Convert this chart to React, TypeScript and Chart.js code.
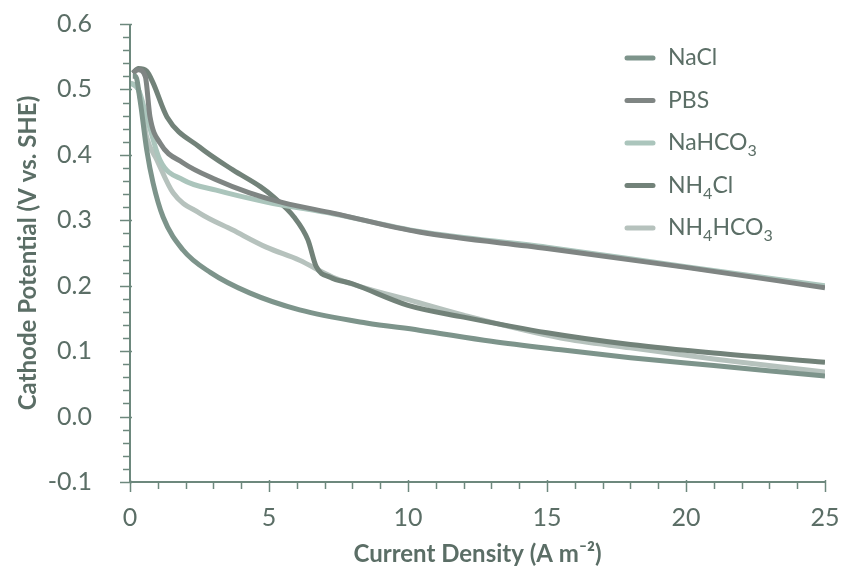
import React, { useEffect, useRef } from "react";
import { Chart, registerables } from "chart.js";

Chart.register(...registerables);

// Series data (x = current density A m^-2, y = cathode potential V vs SHE)
const naclX = [0.1, 0.2, 0.36, 0.6, 0.83, 1.19, 1.9, 2.9, 4.3, 6.1, 8.5, 10.4, 13, 15.5, 18, 21, 25];
const naclY = [0.52, 0.52, 0.484, 0.408, 0.357, 0.305, 0.255, 0.22, 0.189, 0.163, 0.143, 0.132, 0.115, 0.102, 0.09, 0.078, 0.062];

const pbsX = [0.1, 0.3, 0.55, 0.72, 1.08, 1.9, 3.1, 4.3, 5.5, 7.3, 10.4, 15, 20, 25];
const pbsY = [0.525, 0.53, 0.52, 0.458, 0.418, 0.388, 0.362, 0.342, 0.327, 0.311, 0.282, 0.257, 0.228, 0.197];

const nahco3X = [0, 0.3, 0.6, 1.08, 1.9, 3.1, 4.9, 7.3, 10.4, 15, 20, 25];
const nahco3Y = [0.51, 0.5, 0.458, 0.392, 0.362, 0.346, 0.328, 0.31, 0.283, 0.259, 0.229, 0.2];

const nh4clX = [0.1, 0.3, 0.6, 0.83, 1.33, 2.5, 3.7, 4.7, 5.15, 5.9, 6.4, 6.7, 7.2, 8, 10, 12, 15, 18, 21, 25];
const nh4clY = [0.525, 0.532, 0.528, 0.51, 0.458, 0.412, 0.377, 0.351, 0.336, 0.305, 0.27, 0.229, 0.213, 0.203, 0.17, 0.152, 0.128, 0.11, 0.097, 0.083];

const nh4hco3X = [0, 0.3, 0.6, 0.97, 1.55, 2.5, 3.7, 4.9, 6.1, 7.3, 10.4, 12, 15.5, 18, 21, 25];
const nh4hco3Y = [0.51, 0.5, 0.427, 0.392, 0.342, 0.311, 0.285, 0.259, 0.239, 0.213, 0.174, 0.155, 0.12, 0.105, 0.088, 0.068];

// Legend labels: [main, subscript, main, subscript...]
const legendParts: string[][] = [
  ["NaCl"],
  ["PBS"],
  ["NaHCO", "3"],
  ["NH", "4", "Cl"],
  ["NH", "4", "HCO", "3"],
];
const seriesColors = ["#7d948b", "#7f8583", "#abc5bc", "#728279", "#b6c2bd"];

const yTicks = { min: -0.1, max: 0.6, step: 0.1, minor: 0.02 };
const xTicks = { min: 0, max: 25, step: 5, minor: 1 };

const TEXT = "#5b6e66";
const AXIS = "#6d887d";
const FONT = "Lato, 'Open Sans', sans-serif";

function pts(xs: number[], ys: number[]) {
  return xs.map((x, i) => ({ x, y: ys[i] }));
}

export default function App() {
  const ref = useRef<HTMLCanvasElement | null>(null);
  useEffect(() => {
    if (!ref.current) return;
    const seriesData = [
      pts(naclX, naclY),
      pts(pbsX, pbsY),
      pts(nahco3X, nahco3Y),
      pts(nh4clX, nh4clY),
      pts(nh4hco3X, nh4hco3Y),
    ];
    const axisPlugin = {
      id: "axisTicks",
      afterDraw(chart: any) {
        const ctx = chart.ctx;
        const xs = chart.scales.x;
        const ys = chart.scales.y;
        const ca = chart.chartArea;
        ctx.save();
        ctx.strokeStyle = AXIS;
        ctx.lineWidth = 2;
        ctx.beginPath();
        ctx.moveTo(ca.left, ca.top);
        ctx.lineTo(ca.left, ca.bottom);
        ctx.lineTo(ca.right, ca.bottom);
        ctx.stroke();
        ctx.lineWidth = 1.5;
        const nY = Math.round((yTicks.max - yTicks.min) / yTicks.minor);
        for (let i = 0; i <= nY; i++) {
          const v = yTicks.min + i * yTicks.minor;
          const p = Math.round(ys.getPixelForValue(v)) + 0.5;
          const major = i % 5 === 0;
          ctx.beginPath();
          ctx.moveTo(ca.left - (major ? 10 : 7), p);
          ctx.lineTo(ca.left + (major ? 2 : 0), p);
          ctx.stroke();
        }
        const nX = Math.round((xTicks.max - xTicks.min) / xTicks.minor);
        for (let i = 0; i <= nX; i++) {
          const v = xTicks.min + i * xTicks.minor;
          const p = Math.round(xs.getPixelForValue(v)) + 0.5;
          const major = i % 5 === 0;
          ctx.beginPath();
          ctx.moveTo(p, ca.bottom - (major ? 2 : 0));
          ctx.lineTo(p, ca.bottom + (major ? 10 : 7));
          ctx.stroke();
        }
        // legend
        const lx = 627;
        const tx = 668;
        const y0 = 58;
        const dy = 42.5;
        legendParts.forEach((parts, i) => {
          const cy = y0 + i * dy;
          ctx.strokeStyle = seriesColors[i];
          ctx.lineWidth = 5;
          ctx.lineCap = "round";
          ctx.beginPath();
          ctx.moveTo(lx, cy);
          ctx.lineTo(lx + 26, cy);
          ctx.stroke();
          let x = tx;
          ctx.fillStyle = TEXT;
          ctx.textBaseline = "middle";
          ctx.textAlign = "left";
          parts.forEach((s, j) => {
            const sub = j % 2 === 1;
            ctx.font = `${sub ? 16 : 23}px ${FONT}`;
            ctx.fillText(s, x, sub ? cy + 8 : cy);
            x += ctx.measureText(s).width;
          });
        });
        ctx.restore();
      },
    };
    const chart = new Chart(ref.current, {
      type: "scatter",
      data: {
        datasets: seriesData.map((d, i) => ({
          label: legendParts[i].join(""),
          data: d,
          showLine: true,
          borderColor: seriesColors[i],
          backgroundColor: seriesColors[i],
          borderWidth: 5,
          pointRadius: 0,
          cubicInterpolationMode: "monotone" as const,
        })),
      },
      options: {
        responsive: false,
        animation: false,
        layout: { padding: { top: 24, right: 19, left: 0, bottom: 0 } },
        plugins: { legend: { display: false }, tooltip: { enabled: false } },
        scales: {
          x: {
            type: "linear",
            min: xTicks.min,
            max: xTicks.max,
            grid: { display: false },
            border: { display: false },
            ticks: {
              stepSize: xTicks.step,
              color: TEXT,
              font: { family: FONT, size: 25 },
              padding: 13,
              maxRotation: 0,
            },
            title: {
              display: true,
              text: "Current Density (A m\u207B\u00B2)",
              color: TEXT,
              font: { family: FONT, size: 24, weight: "bold" },
              padding: { top: 0, bottom: 6 },
            },
            afterFit(scale: any) {
              scale.height = 93;
              scale.paddingLeft = 0;
              scale.paddingRight = 0;
            },
          },
          y: {
            type: "linear",
            min: yTicks.min,
            max: yTicks.max,
            grid: { display: false },
            border: { display: false },
            ticks: {
              stepSize: yTicks.step,
              color: TEXT,
              font: { family: FONT, size: 25 },
              padding: 30,
              callback: (v: any) => {
                const n = Math.abs(Number(v)) < 1e-9 ? 0 : Number(v);
                return n.toFixed(1);
              },
            },
            title: {
              display: true,
              text: "Cathode Potential (V vs. SHE)",
              color: TEXT,
              font: { family: FONT, size: 24, weight: "bold" },
              padding: { top: 14, bottom: 0 },
            },
            afterFit(scale: any) {
              scale.width = 130;
              scale.paddingTop = 0;
              scale.paddingBottom = 0;
            },
          },
        },
      },
      plugins: [axisPlugin],
    });
    return () => chart.destroy();
  }, []);
  return (
    <div style={{ position: "absolute", left: 0, top: 0, width: 844, height: 575, background: "#fff" }}>
      <canvas ref={ref} width={844} height={575} style={{ display: "block" }} />
    </div>
  );
}
